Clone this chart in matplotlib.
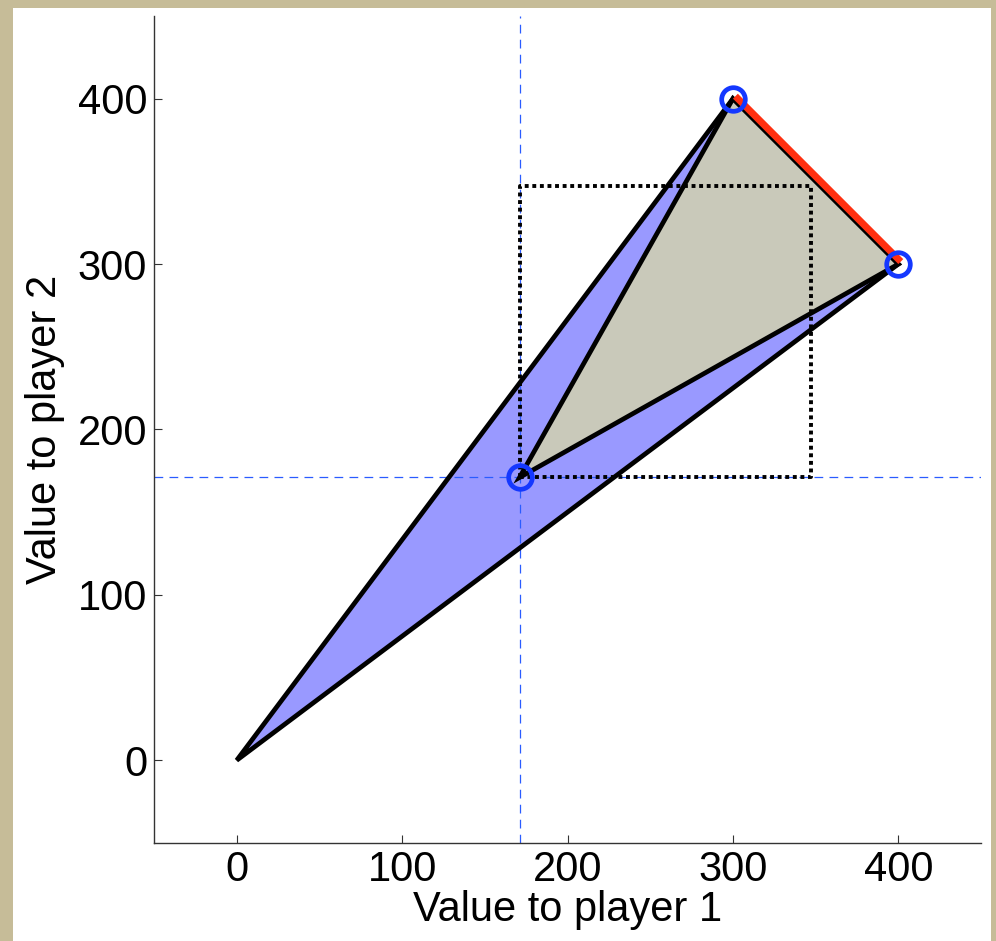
import matplotlib
matplotlib.use("Agg")
import matplotlib.pyplot as plt
from matplotlib.patches import Polygon, Rectangle
from matplotlib import transforms

plt.rcParams['font.family'] = ['Liberation Sans', 'DejaVu Sans']

# payoff data
feasible_x = [0, 300, 400]
feasible_y = [0, 400, 300]
threat_pt = [171, 171]
frontier_x = [300, 400]
frontier_y = [400, 300]
box_corner = [347, 347]
ticks = [0, 100, 200, 300, 400]

fig = plt.figure(figsize=(9.96, 9.41), dpi=100)
fig.patch.set_facecolor('#c6bc98')
# white panel on top of the beige backdrop
fig.add_artist(Rectangle((13 / 996, 0), (991 - 13) / 996, (941 - 8) / 941,
                         transform=fig.transFigure, facecolor='white',
                         edgecolor='none', zorder=0))

ax = fig.add_axes([154 / 996, 98 / 941, 827 / 996, 827 / 941])
ax.set_facecolor('none')

blue = '#1438ff'

# feasible set
ax.add_patch(Polygon(list(zip(feasible_x, feasible_y)), closed=True,
                     facecolor='#9999ff', edgecolor='none', zorder=1))

# dashed guides through the threat point
ax.axvline(threat_pt[0], color='#2a5cff', lw=0.9, dashes=(7, 5), zorder=2)
ax.axhline(threat_pt[1], color='#2a5cff', lw=0.9, dashes=(7, 5), zorder=2)

ax.add_patch(Polygon(list(zip(feasible_x, feasible_y)), closed=True,
                     facecolor='none', edgecolor='black', lw=3.4, zorder=3))

# bargaining region above the threat point
barg_x = [threat_pt[0]] + frontier_x
barg_y = [threat_pt[1]] + frontier_y
ax.add_patch(Polygon(list(zip(barg_x, barg_y)), closed=True,
                     facecolor='#c9c9ba', edgecolor='black', lw=3.4, zorder=4))

# dotted box from threat point to the solution
bx = [threat_pt[0], threat_pt[0], box_corner[0], box_corner[0], threat_pt[0]]
by = [threat_pt[1], box_corner[1], box_corner[1], threat_pt[1], threat_pt[1]]
ax.plot(bx, by, color='black', lw=2.8, dashes=(1, 0.95),
        dash_capstyle='butt', zorder=5)

# pareto frontier
shifted = transforms.offset_copy(ax.transData, fig=fig, x=2.5, y=2.5, units='dots')
ax.plot(frontier_x, frontier_y, color='#ff3010', lw=5,
        solid_capstyle='butt', transform=shifted, zorder=6)

ax.plot(frontier_x + [threat_pt[0]], frontier_y + [threat_pt[1]], 'o',
        ms=17, mfc='none', mec=blue, mew=3.4, zorder=7)

ax.set_xlim(-50, 450)
ax.set_ylim(-50, 450)
ax.set_xticks(ticks)
ax.set_yticks(ticks)
for s in ['top', 'right']:
    ax.spines[s].set_visible(False)
for s in ['left', 'bottom']:
    ax.spines[s].set_color('#333333')
    ax.spines[s].set_linewidth(1)
ax.tick_params(direction='in', length=6, width=0.8, color='#333333',
               labelsize=30, pad=5)

ax.set_xlabel('Value to player 1', fontsize=30, labelpad=0)
ax.set_ylabel('Value to player 2', fontsize=30, labelpad=9)

fig.savefig('out.png', dpi=100, facecolor=fig.get_facecolor())
